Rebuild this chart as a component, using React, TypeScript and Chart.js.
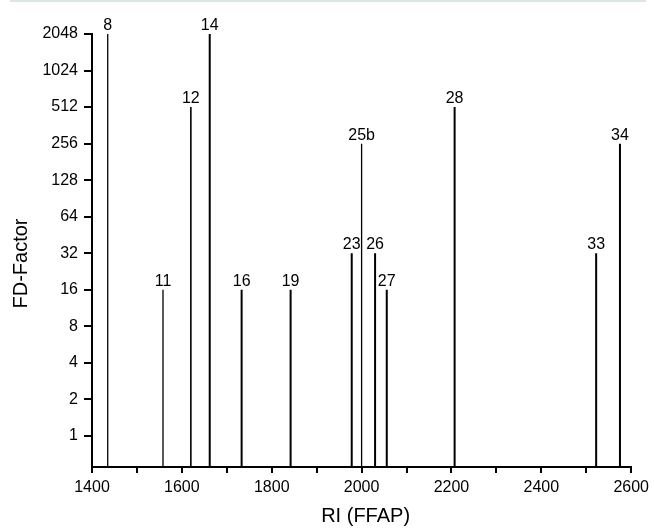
import React, { useEffect, useRef } from "react";
import { Chart, registerables } from "chart.js";

Chart.register(...registerables);

// ---- data ----
const peakLabels = ["8", "11", "12", "14", "16", "19", "23", "25b", "26", "27", "28", "33", "34"];
const peakRI = [1435, 1558, 1620, 1662, 1733, 1842, 1978, 2000, 2030, 2056, 2207, 2522, 2575];
const fdFactors = [2048, 16, 512, 2048, 16, 16, 32, 256, 32, 16, 512, 32, 256];
const yTickValues = [1, 2, 4, 8, 16, 32, 64, 128, 256, 512, 1024, 2048];
const xTickValues = [1400, 1500, 1600, 1700, 1800, 1900, 2000, 2100, 2200, 2300, 2400, 2500, 2600];
const xTickLabels = ["1400", "", "1600", "", "1800", "", "2000", "", "2200", "", "2400", "", "2600"];
const xTitle = "RI (FFAP)";
const yTitle = "FD-Factor";
const xMin = 1400;
const xMax = 2600;
const yMin = 0.555;
const yMax = 2048;

// ---- styles ----
const lineWidths = [1.3, 1.3, 1.6, 2, 2, 2, 2, 1.3, 2, 2, 2, 2, 2];
const FONT = "'Liberation Sans', Arial, sans-serif";

const peakLabelPlugin = {
  id: "peakLabels",
  afterDatasetsDraw(chart: any) {
    const { ctx, scales } = chart;
    ctx.save();
    ctx.font = `16px ${FONT}`;
    ctx.fillStyle = "#000";
    ctx.textAlign = "center";
    ctx.textBaseline = "alphabetic";
    peakLabels.forEach((lab, i) => {
      const x = scales.x.getPixelForValue(peakRI[i]);
      const y = scales.y.getPixelForValue(fdFactors[i]);
      ctx.fillText(lab, x, y - 4);
    });
    // axis titles
    ctx.font = `20px ${FONT}`;
    ctx.textAlign = "center";
    ctx.textBaseline = "alphabetic";
    const xa = chart.chartArea;
    ctx.fillText(xTitle, (xa.left + xa.right) / 2 + 4, 522);
    ctx.translate(27, (xa.top + xa.bottom) / 2 + 13);
    ctx.rotate(-Math.PI / 2);
    ctx.fillText(yTitle, 0, 0);
    ctx.restore();
  },
};

export default function App() {
  const ref = useRef<HTMLCanvasElement | null>(null);

  useEffect(() => {
    if (!ref.current) return;
    const datasets = peakRI.map((ri, i) => ({
      label: peakLabels[i],
      data: [
        { x: ri, y: yMin },
        { x: ri, y: fdFactors[i] },
      ],
      borderColor: "#000",
      borderWidth: lineWidths[i],
      pointRadius: 0,
      fill: false,
      tension: 0,
    }));

    const chart = new Chart(ref.current, {
      type: "line",
      data: { datasets },
      plugins: [peakLabelPlugin],
      options: {
        animation: false,
        responsive: false,
        maintainAspectRatio: false,
        events: [],
        layout: { padding: { top: 34, right: 21, left: 0, bottom: 0 } },
        plugins: {
          legend: { display: false },
          tooltip: { enabled: false },
        },
        scales: {
          x: {
            type: "linear",
            min: xMin,
            max: xMax,
            afterBuildTicks: (scale: any) => {
              scale.ticks = xTickValues.map((v) => ({ value: v }));
            },
            afterFit: (scale: any) => {
              scale.height = 61;
            },
            ticks: {
              autoSkip: false,
              maxRotation: 0,
              padding: 5,
              color: "#000",
              font: { family: FONT, size: 16 },
              callback: (v: any, idx: number) => xTickLabels[idx],
            },
            grid: {
              drawOnChartArea: false,
              drawTicks: true,
              tickLength: 6,
              color: "#000",
              lineWidth: 2,
            },
            border: { display: true, color: "#000", width: 2 },
            title: { display: false },
          },
          y: {
            type: "logarithmic",
            min: yMin,
            max: yMax,
            bounds: "data",
            afterBuildTicks: (scale: any) => {
              scale.ticks = yTickValues.map((v) => ({ value: v }));
            },
            afterFit: (scale: any) => {
              scale.width = 92;
            },
            ticks: {
              autoSkip: false,
              padding: 6,
              color: "#000",
              font: { family: FONT, size: 16 },
              callback: (v: any) => String(v),
            },
            grid: {
              drawOnChartArea: false,
              drawTicks: true,
              tickLength: 8,
              color: "#000",
              lineWidth: 2,
            },
            border: { display: true, color: "#000", width: 2 },
            title: { display: false },
          },
        },
      } as any,
    });
    return () => chart.destroy();
  }, []);

  return (
    <div style={{ position: "absolute", left: 0, top: 0, width: 654, height: 528, background: "#fff" }}>
      <div
        style={{
          position: "absolute",
          left: 10,
          right: 8,
          top: 0,
          height: 2,
          background: "#dbe8e1",
        }}
      />
      <canvas ref={ref} width={654} height={528} style={{ display: "block", width: 654, height: 528 }} />
    </div>
  );
}
